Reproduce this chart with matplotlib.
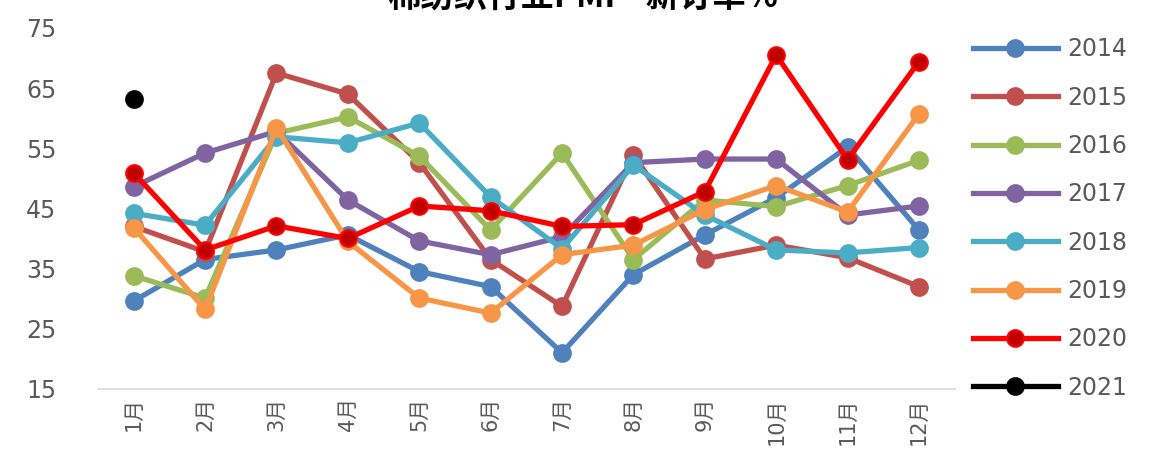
import matplotlib
matplotlib.use("Agg")
import matplotlib.pyplot as plt

plt.rcParams['font.family'] = ['DejaVu Sans', 'Noto Sans CJK SC']

months = ['1月', '2月', '3月', '4月', '5月', '6月', '7月', '8月', '9月', '10月', '11月', '12月']

y2014 = [29.6, 36.5, 38.1, 40.6, 34.5, 32.0, 21.0, 34.0, 40.6, 46.8, 55.2, 41.4]
y2015 = [42.0, 37.8, 67.5, 64.0, 52.6, 36.5, 28.7, 53.9, 36.6, 38.9, 36.8, 32.0]
y2016 = [33.8, 30.1, 57.5, 60.2, 53.7, 41.4, 54.2, 36.5, 46.4, 45.3, 48.8, 53.0]
y2017 = [48.6, 54.2, 57.8, 46.4, 39.6, 37.3, 40.3, 52.6, 53.2, 53.2, 43.9, 45.4]
y2018 = [44.2, 42.2, 56.9, 55.9, 59.2, 46.9, 38.3, 52.2, 43.9, 38.1, 37.6, 38.5]
y2019 = [41.8, 28.2, 58.4, 39.5, 30.1, 27.6, 37.3, 38.9, 44.8, 48.8, 44.4, 60.7]
y2020 = [50.9, 38.1, 42.1, 40.0, 45.4, 44.6, 42.0, 42.3, 47.8, 70.5, 53.1, 69.4]
y2021 = [63.2]

series = [
    ('2014', y2014, '#4F81BD', '#4F81BD'),
    ('2015', y2015, '#C0504D', '#C0504D'),
    ('2016', y2016, '#9BBB59', '#9BBB59'),
    ('2017', y2017, '#8064A2', '#8064A2'),
    ('2018', y2018, '#4BACC6', '#4BACC6'),
    ('2019', y2019, '#F79646', '#F79646'),
    ('2020', y2020, '#FF0000', '#C00000'),
    ('2021', y2021, '#000000', '#000000'),
]

fig = plt.figure(figsize=(11.53, 4.57), dpi=100)
ax = fig.add_axes([0.085, 0.149, 0.743, 0.79])

x = list(range(len(months)))
for name, vals, col, face in series:
    ax.plot(x[:len(vals)], vals, color=col, lw=3.8, marker='o', ms=12,
            markerfacecolor=face, markeredgecolor=col, markeredgewidth=1.5,
            label=name, solid_joinstyle='round')

ax.set_xlim(-0.5, 11.5)
ax.set_ylim(15, 75)
ax.set_yticks([15, 25, 35, 45, 55, 65, 75])
ax.set_xticks(x)
ax.set_xticklabels(months, rotation=90, fontsize=15, color='#595959')
ax.tick_params(axis='y', length=0, pad=30, labelsize=17, labelcolor='#595959')
ax.tick_params(axis='x', length=0, pad=6)
for s in ['top', 'right', 'left']:
    ax.spines[s].set_visible(False)
ax.spines['bottom'].set_color('#D9D9D9')
ax.spines['bottom'].set_linewidth(1.2)

# legend on the right, one entry per year
leg = ax.legend(loc='center left', bbox_to_anchor=(0.996, 0.472), frameon=False,
                fontsize=17, handlelength=3.6, labelspacing=1.03, handletextpad=0.4)
for t in leg.get_texts():
    t.set_color('#595959')

fig.text(0.506, 1 - 15 / 457, '棉纺织行业PMI—新订单%', ha='center', va='bottom',
         fontsize=24, fontweight='bold', family=['Noto Sans CJK SC', 'DejaVu Sans'])

fig.savefig('out.png', dpi=100)
